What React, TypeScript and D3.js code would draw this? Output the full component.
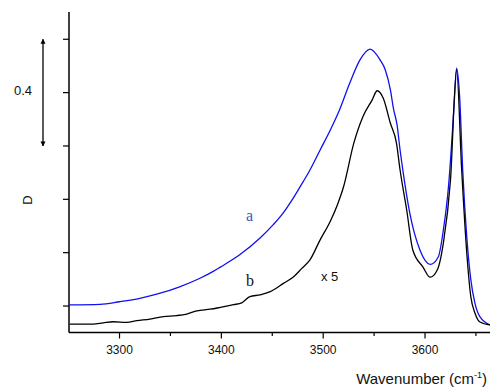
import React from "react";
import * as d3 from "d3";

const W = 490;
const H = 387;

// Spectrum a (blue)
const waveA = [3251, 3281, 3300, 3320, 3340, 3359, 3379, 3392, 3399, 3418, 3438, 3451, 3461, 3469, 3477, 3487, 3497, 3507, 3516, 3526, 3536, 3546, 3556, 3561, 3566, 3569, 3572.5, 3575.5, 3578.5, 3585, 3595, 3605, 3613, 3618, 3623, 3627, 3629, 3631, 3634, 3637, 3641, 3645, 3649, 3654, 3664];
const absA = [0.004, 0.006, 0.016, 0.029, 0.048, 0.072, 0.104, 0.13, 0.146, 0.192, 0.255, 0.305, 0.35, 0.395, 0.445, 0.51, 0.585, 0.66, 0.735, 0.835, 0.922, 0.963, 0.922, 0.885, 0.81, 0.74, 0.68, 0.585, 0.502, 0.349, 0.21, 0.156, 0.184, 0.285, 0.446, 0.66, 0.784, 0.892, 0.784, 0.51, 0.259, 0.098, 0.011, -0.041, -0.071];

// Spectrum b (black, x5)
const waveB = [3251, 3274, 3284, 3294, 3307, 3317, 3330, 3343, 3356, 3366, 3376, 3389, 3399, 3412, 3420, 3428, 3438, 3448, 3461, 3471, 3479, 3487, 3497, 3507, 3514, 3520, 3530, 3539, 3548, 3553, 3559, 3566, 3572, 3575.5, 3582, 3588, 3598, 3605, 3612, 3618, 3625, 3631, 3636, 3641, 3645, 3649, 3654, 3664];
const absB = [-0.068, -0.068, -0.063, -0.059, -0.061, -0.055, -0.049, -0.04, -0.036, -0.03, -0.018, -0.012, -0.005, 0.005, 0.012, 0.035, 0.042, 0.054, 0.085, 0.11, 0.141, 0.173, 0.248, 0.318, 0.38, 0.447, 0.61, 0.71, 0.772, 0.807, 0.779, 0.685, 0.61, 0.51, 0.36, 0.21, 0.146, 0.108, 0.135, 0.236, 0.472, 0.885, 0.51, 0.199, 0.034, -0.026, -0.06, -0.071];

const majorTicks = [3300, 3400, 3500, 3600];
const minorTicks = [3350, 3450, 3550, 3650];
const yTicks = [0, 0.2, 0.4, 0.6, 0.8, 1.0];

export default function App() {
  const x = d3.scaleLinear().domain([3250, 3664]).range([68.6, 490.2]);
  const y = d3.scaleLinear().domain([-0.1, 1.1]).range([332.7, 12.6]);
  const axisX = 69;
  const axisY = 332.5;

  const line = d3
    .line<[number, number]>()
    .x((d) => x(d[0]))
    .y((d) => y(d[1]))
    .curve(d3.curveMonotoneX);

  const dataA = waveA.map((w, i) => [w, absA[i]] as [number, number]);
  const dataB = waveB.map((w, i) => [w, absB[i]] as [number, number]);

  return (
    <svg
      width={W}
      height={H}
      style={{ position: "absolute", left: 0, top: 0, background: "#fff" }}
      fontFamily="Arial, 'Liberation Sans', sans-serif"
    >
      <defs>
        <clipPath id="plot">
          <rect x={axisX} y={0} width={W - axisX} height={axisY} />
        </clipPath>
        <marker id="ah" viewBox="0 0 10 10" refX="9" refY="5" markerWidth="5" markerHeight="9" orient="auto-start-reverse" markerUnits="userSpaceOnUse">
          <path d="M0,0 L10,5 L0,10 z" fill="#000" />
        </marker>
      </defs>

      <g clipPath="url(#plot)">
        <path d={line(dataA) || ""} fill="none" stroke="#1010f0" strokeWidth={1.3} />
        <path d={line(dataB) || ""} fill="none" stroke="#000" strokeWidth={1.3} />
      </g>

      {/* Y axis */}
      <line x1={axisX} x2={axisX} y1={12} y2={axisY} stroke="#000" strokeWidth={1.5} />
      {yTicks.map((t) => (
        <line key={t} x1={axisX - 6} x2={axisX} y1={y(t)} y2={y(t)} stroke="#000" strokeWidth={1.2} />
      ))}

      {/* X axis */}
      <line x1={axisX} x2={W} y1={axisY} y2={axisY} stroke="#000" strokeWidth={1.5} />
      {majorTicks.map((t) => (
        <g key={t}>
          <line x1={x(t)} x2={x(t)} y1={axisY} y2={axisY + 6} stroke="#000" strokeWidth={1.2} />
          <text x={x(t)} y={354} fontSize={12} textAnchor="middle" fill="#111">
            {t}
          </text>
        </g>
      ))}
      {minorTicks.map((t) => (
        <line key={t} x1={x(t)} x2={x(t)} y1={axisY} y2={axisY + 3.5} stroke="#000" strokeWidth={1.2} />
      ))}

      <text x={487} y={384} fontSize={15} textAnchor="end" fill="#111">
        Wavenumber (cm
        <tspan fontSize={9} dy={-6}>-1</tspan>
        <tspan dy={6}>)</tspan>
      </text>

      {/* Y label */}
      <text transform="translate(32,200) rotate(-90)" fontSize={13} textAnchor="middle" fill="#111">
        D
      </text>

      {/* scale bar */}
      <line x1={43} x2={43} y1={y(1.0)} y2={y(0.6)} stroke="#000" strokeWidth={1.3} markerStart="url(#ah)" markerEnd="url(#ah)" />
      <text x={14} y={95} fontSize={13} fill="#111">0.4</text>

      {/* curve labels */}
      <text x={246} y={221} fontSize={16} fontFamily="'Liberation Serif', 'Times New Roman', serif" fill="#3b5bb5">a</text>
      <text x={246} y={286} fontSize={16} fontFamily="'Liberation Serif', 'Times New Roman', serif" fill="#111">b</text>
      <text x={321} y={281} fontSize={13} fill="#111">x 5</text>
    </svg>
  );
}
